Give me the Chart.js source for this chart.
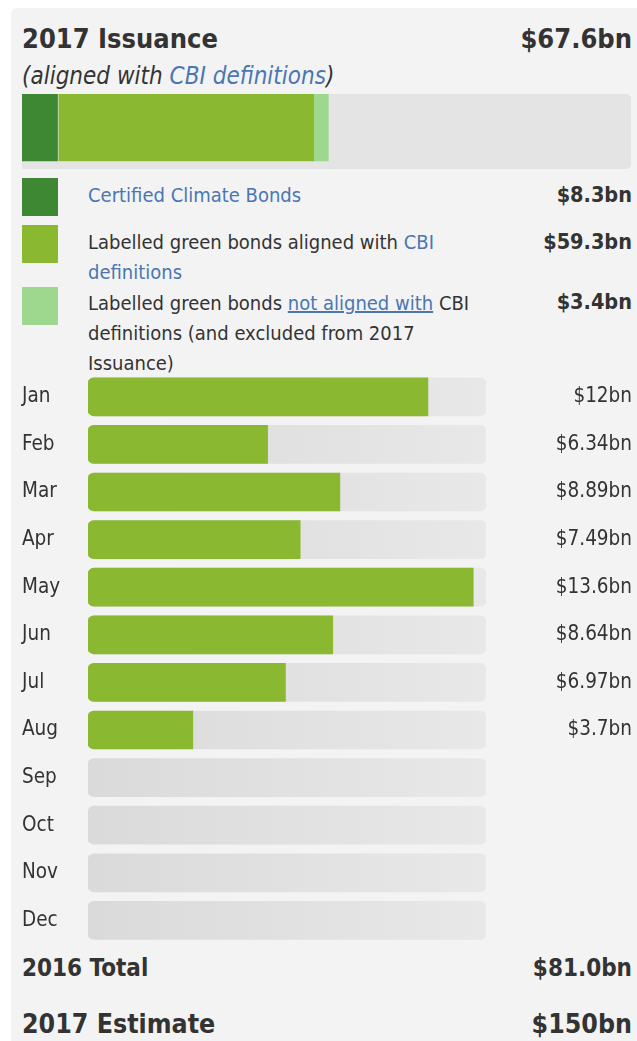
<!DOCTYPE html>
<html>
<head>
<meta charset="utf-8">
<script src="https://cdn.jsdelivr.net/npm/chart.js@4.4.1/dist/chart.umd.min.js"></script>
<style>
  body { margin: 0; background: #fff; color: #333; font-family: 'DejaVu Sans Condensed', Tahoma, 'Liberation Sans', sans-serif; }
  #panel { position: absolute; left: 11px; top: 8px; width: 640px; height: 1100px; background: #f3f3f3; border-radius: 6px; }
  .t { position: absolute; white-space: nowrap; font-size: 20px; line-height: 30px; }
  .r { text-align: right; width: 300px; left: 332px; }
  .b { font-weight: bold; }
  .v { font-size: 21.5px; }
  .big { font-size: 27px; }
  .link { color: #4a76b4; }
  .u { text-decoration: underline; }
  .sw { position: absolute; left: 22px; width: 36px; height: 38px; }
  canvas { position: absolute; left: 0; }
</style>
</head>
<body>
<div id="panel"></div>

<div class="t b big" style="left:22px; top:24px;">2017 Issuance</div>
<div class="t r b big" id="issued" style="top:24px;"></div>
<div class="t" style="left:22px; top:61px; font-style:italic; font-size:24px;">(aligned with <span class="link">CBI definitions</span>)</div>

<canvas id="yearBar" width="637" height="85" style="top:90px;"></canvas>

<div class="sw" id="sw0" style="top:178px;"></div>
<div class="sw" id="sw1" style="top:225px;"></div>
<div class="sw" id="sw2" style="top:287px;"></div>

<div class="t link" style="left:88px; top:180px;">Certified Climate Bonds</div>
<div class="t" style="left:88px; top:227px;">Labelled green bonds aligned with <span class="link">CBI<br>definitions</span></div>
<div class="t" style="left:88px; top:288px;">Labelled green bonds <span class="link u">not aligned with</span> CBI<br>definitions (and excluded from 2017<br>Issuance)</div>

<div class="t r b v" id="v0" style="top:180px;"></div>
<div class="t r b v" id="v1" style="top:227px;"></div>
<div class="t r b v" id="v2" style="top:287px;"></div>

<canvas id="monthBars" width="637" height="580" style="top:370px;"></canvas>

<div class="t b" style="left:22px; top:953px; font-size:24px;">2016 Total</div>
<div class="t r b" id="total2016" style="top:953px; font-size:24px;"></div>
<div class="t b" style="left:22px; top:1009px; font-size:26.5px;">2017 Estimate</div>
<div class="t r b" id="estimate2017" style="top:1009px; font-size:26.5px;"></div>

<script>
const FONT = "'DejaVu Sans Condensed', Tahoma, 'Liberation Sans', sans-serif";

// 2017 issuance split ($bn)
const segmentNames = ['Certified Climate Bonds', 'Labelled green bonds aligned', 'Labelled green bonds not aligned'];
const segmentValues = [8.3, 59.3, 3.4];
const segmentColors = ['#3e8733', '#8ab830', '#9ed88f'];
const yearScaleMax = 141;

// monthly issuance ($bn)
const months = ['Jan', 'Feb', 'Mar', 'Apr', 'May', 'Jun', 'Jul', 'Aug', 'Sep', 'Oct', 'Nov', 'Dec'];
const monthValues = [12, 6.34, 8.89, 7.49, 13.6, 8.64, 6.97, 3.7, null, null, null, null];
const monthScaleMax = 14.05;

const total2016 = 81.0;
const estimate2017 = 150;

const bn = v => '$' + v + 'bn';
const bn1 = v => '$' + v.toFixed(1) + 'bn';

document.getElementById('issued').textContent = bn1(segmentValues[0] + segmentValues[1]);
segmentValues.forEach((v, i) => {
  document.getElementById('v' + i).textContent = bn1(v);
  document.getElementById('sw' + i).style.background = segmentColors[i];
});
document.getElementById('total2016').textContent = bn1(total2016);
document.getElementById('estimate2017').textContent = bn(estimate2017);

// stacked year bar with a grey track behind it
new Chart(document.getElementById('yearBar'), {
  type: 'bar',
  data: {
    labels: ['2017'],
    datasets: [
      ...segmentValues.map((v, i) => ({
        label: segmentNames[i],
        data: [v],
        backgroundColor: segmentColors[i],
        borderColor: '#e4e4e4',
        borderWidth: { top: 0, right: 0, bottom: 8, left: i === 1 ? 1 : 0 },
        borderSkipped: false,
        stack: 'issued'
      })),
      {
        label: 'track',
        data: [yearScaleMax],
        backgroundColor: '#e4e4e4',
        borderRadius: 6,
        borderSkipped: false,
        stack: 'track'
      }
    ]
  },
  options: {
    indexAxis: 'y',
    responsive: false,
    animation: false,
    events: [],
    layout: { padding: { left: 22, right: 6, top: 4, bottom: 6 } },
    datasets: { bar: { barThickness: 75, grouped: false } },
    plugins: { legend: { display: false }, tooltip: { enabled: false } },
    scales: {
      x: { display: false, stacked: true, min: 0, max: yearScaleMax },
      y: { display: false, stacked: true }
    }
  }
});

// month names on the left, values on the right
const rowLabels = {
  id: 'rowLabels',
  afterDatasetsDraw(chart) {
    const { ctx } = chart;
    const y = chart.scales.y;
    ctx.save();
    ctx.font = '20.5px ' + FONT;
    ctx.fillStyle = '#333';
    ctx.textBaseline = 'middle';
    months.forEach((m, i) => {
      const py = y.getPixelForValue(i);
      ctx.textAlign = 'left';
      ctx.fillText(m, 22, py);
      if (monthValues[i] != null) {
        ctx.textAlign = 'right';
        ctx.fillText(bn(monthValues[i]), 632, py);
      }
    });
    ctx.restore();
  }
};

function trackFill(context) {
  const area = context.chart.chartArea;
  if (!area) return '#e2e2e2';
  const g = context.chart.ctx.createLinearGradient(area.left, 0, area.right, 0);
  g.addColorStop(0, '#dadada');
  g.addColorStop(1, '#e8e8e8');
  return g;
}

new Chart(document.getElementById('monthBars'), {
  type: 'bar',
  data: {
    labels: months,
    datasets: [
      {
        label: '2017',
        data: monthValues,
        backgroundColor: segmentColors[1],
        borderRadius: { topLeft: 6, bottomLeft: 6, topRight: 0, bottomRight: 0 },
        borderSkipped: false
      },
      {
        label: 'track',
        data: months.map(() => monthScaleMax),
        backgroundColor: trackFill,
        borderRadius: 6,
        borderSkipped: false
      }
    ]
  },
  options: {
    indexAxis: 'y',
    responsive: false,
    animation: false,
    events: [],
    layout: { padding: { left: 88, right: 151, top: 3, bottom: 5.8 } },
    datasets: { bar: { barThickness: 38, grouped: false } },
    plugins: { legend: { display: false }, tooltip: { enabled: false } },
    scales: {
      x: { display: false, min: 0, max: monthScaleMax },
      y: { display: false }
    }
  },
  plugins: [rowLabels]
});
</script>
</body>
</html>
